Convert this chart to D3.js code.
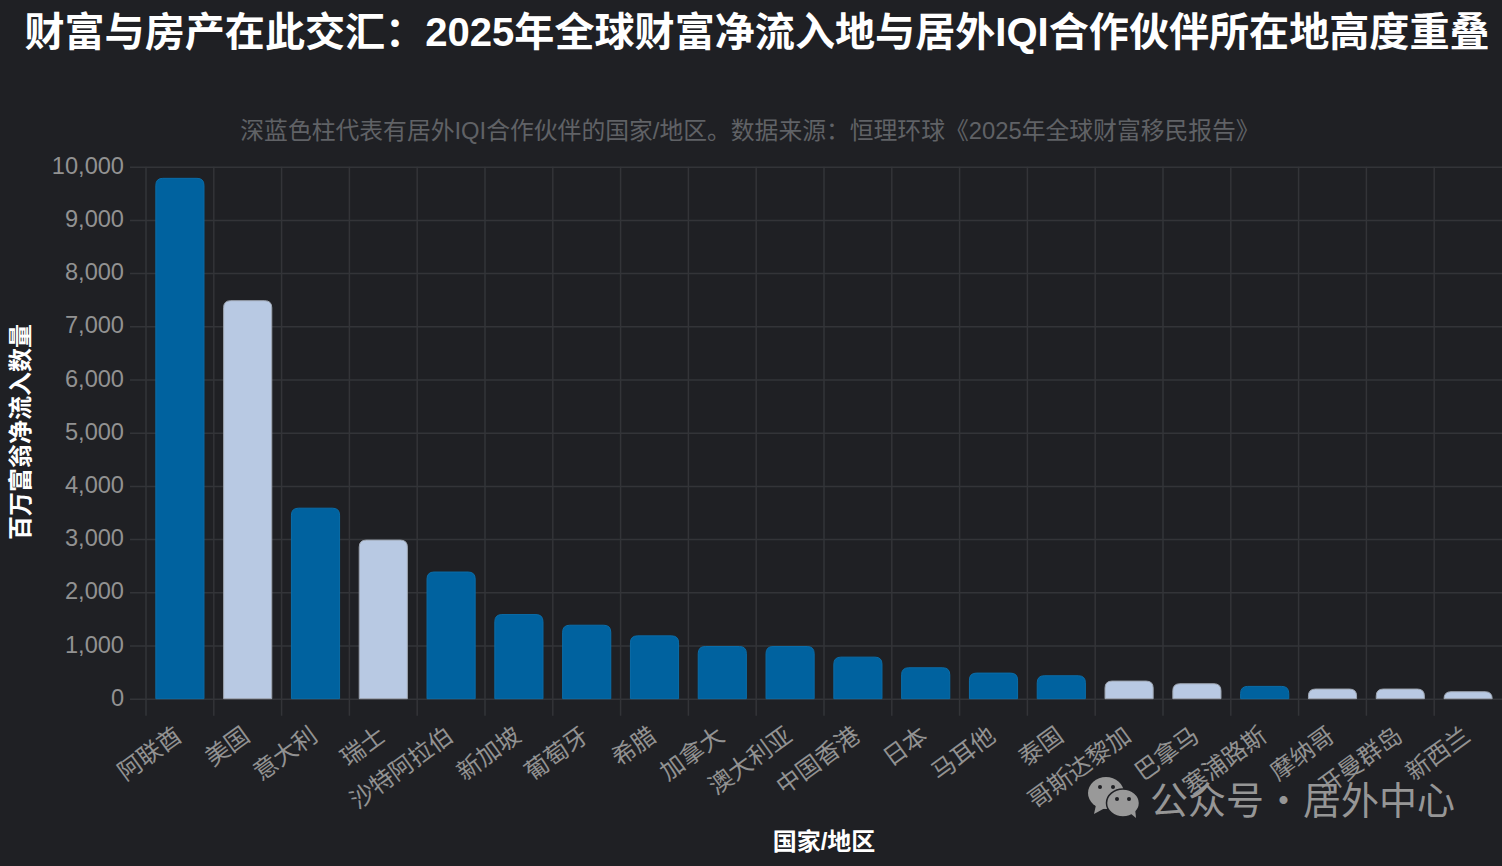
<!DOCTYPE html>
<html>
<head>
	<meta charset="utf-8">
	<title>2025年全球财富净流入地</title>
	<style type="text/css">
		body{
			margin: 0;
			background-color: #1f2024;
		}
		svg{
			display: block;
			font-family: "Liberation Sans", "Noto Sans CJK SC", sans-serif;
		}
	</style>
	<script src="https://cdn.jsdelivr.net/npm/d3@7"></script>
</head>
<body>
	<div id="chart"></div>
	<script type="text/javascript">
		const countries = ['阿联酋','美国','意大利','瑞士','沙特阿拉伯','新加坡','葡萄牙','希腊','加拿大','澳大利亚','中国香港','日本','马耳他','泰国','哥斯达黎加','巴拿马','塞浦路斯','摩纳哥','开曼群岛','新西兰'];
		const inflows = [9800,7500,3600,3000,2400,1600,1400,1200,1000,1000,800,600,500,450,350,300,250,200,200,150];
		const hasPartner = [1,0,1,0,1,1,1,1,1,1,1,1,1,1,0,0,1,0,0,0];
		const yTicks = [0,1000,2000,3000,4000,5000,6000,7000,8000,9000,10000];

		const [w,h] = [1502,866];
		const [plotL,plotR,plotT,plotB] = [146,1502,166.7,698.7];
		const gridColor = '#333438';

		const svg = d3.select('#chart')
		.append('svg')
		.attr('width', w)
		.attr('height', h);

		const xScale = d3.scaleBand()
		.domain(countries)
		.range([plotL,plotR])
		.paddingInner(0.29)
		.paddingOuter(0.145);
		const yScale = d3.scaleLinear()
		.domain([0,10000])
		.range([plotB,plotT]);

		// vertical grid sits on the band edges, not the band centres
		const gap = xScale.step()*xScale.paddingInner()/2;
		svg.append('g')
		.selectAll('line')
		.data(countries)
		.enter()
		.append('line')
		.attr('x1', d=>xScale(d)-gap)
		.attr('x2', d=>xScale(d)-gap)
		.attr('y1', plotT)
		.attr('y2', plotB+17)
		.attr('stroke', gridColor)
		.attr('stroke-width', 1.5);

		const yAxis = d3.axisLeft(yScale)
		.tickValues(yTicks)
		.tickSize(plotR-plotL+16)
		.tickPadding(6)
		.tickFormat(d3.format(','));
		const yG = svg.append('g')
		.attr('transform', `translate(${plotR},0)`)
		.call(yAxis);
		yG.select('.domain').remove();
		yG.selectAll('line').attr('stroke', gridColor).attr('stroke-width', 1.5);
		yG.selectAll('text')
		.attr('fill', '#929292')
		.attr('font-size', 23.6)
		.attr('dy', '0.28em')
		.attr('font-family', '"Liberation Sans", sans-serif');

		// the border is drawn inside the bar, so the path starts half a pixel in
		const barPath = (d,i)=>{
			const x0 = xScale(d), x1 = x0+xScale.bandwidth();
			const y0 = yScale(inflows[i])+1;
			const r = Math.min(7, plotB-y0);
			return `M${x0},${plotB}V${y0+r}Q${x0},${y0} ${x0+r},${y0}H${x1-r}Q${x1},${y0} ${x1},${y0+r}V${plotB}Z`;
		};
		svg.append('g')
		.selectAll('path')
		.data(countries)
		.enter()
		.append('path')
		.attr('d', barPath)
		.attr('fill', (d,i)=>hasPartner[i] ? '#00629f' : '#b8c9e3')
		.attr('stroke', (d,i)=>hasPartner[i] ? '#0a6da9' : '#9ea6b2')
		.attr('stroke-width', 1);

		const xAxis = d3.axisBottom(xScale).tickSize(0);
		const xG = svg.append('g')
		.attr('transform', `translate(0,${plotB})`)
		.call(xAxis);
		xG.select('.domain').remove();
		xG.selectAll('text')
		.attr('fill', '#929292')
		.attr('font-size', 24)
		.attr('font-family', '"Noto Sans CJK SC", sans-serif')
		.attr('text-anchor', 'end')
		.attr('dy', 0)
		.attr('transform', 'translate(2,38) rotate(-36)');

		svg.append('text')
		.attr('x', 757)
		.attr('y', 46)
		.attr('text-anchor', 'middle')
		.attr('fill', '#ffffff')
		.attr('font-size', 40.1)
		.attr('font-weight', 'bold')
		.text('财富与房产在此交汇：2025年全球财富净流入地与居外IQI合作伙伴所在地高度重叠');

		svg.append('text')
		.attr('x', 750)
		.attr('y', 139)
		.attr('text-anchor', 'middle')
		.attr('fill', '#606266')
		.attr('font-size', 23.8)
		.text('深蓝色柱代表有居外IQI合作伙伴的国家/地区。数据来源：恒理环球《2025年全球财富移民报告》');

		svg.append('text')
		.attr('transform', 'translate(29,432) rotate(-90)')
		.attr('text-anchor', 'middle')
		.attr('fill', '#ffffff')
		.attr('font-size', 24)
		.attr('font-weight', 'bold')
		.text('百万富翁净流入数量');

		svg.append('text')
		.attr('x', 824)
		.attr('y', 850)
		.attr('text-anchor', 'middle')
		.attr('fill', '#ffffff')
		.attr('font-size', 24)
		.attr('font-weight', 'bold')
		.text('国家/地区');

		// watermark
		const wm = svg.append('g');
		wm.append('ellipse').attr('cx',1106).attr('cy',793).attr('rx',18).attr('ry',16).attr('fill','#999999');
		wm.append('path').attr('d','M1096,805L1094,814L1105,808Z').attr('fill','#999999');
		wm.append('ellipse').attr('cx',1123).attr('cy',803).attr('rx',16.5).attr('ry',14).attr('fill','#999999').attr('stroke','#1f2024').attr('stroke-width',1.5);
		wm.append('path').attr('d','M1130,813L1136,818L1135,808Z').attr('fill','#999999');
		[[1100,787],[1113,787],[1117,799],[1129,799]].forEach(p=>{
			wm.append('circle').attr('cx',p[0]).attr('cy',p[1]).attr('r',2).attr('fill','#1f2024');
		});
		wm.append('text')
		.attr('x', 1150)
		.attr('y', 814)
		.attr('fill', '#969696')
		.attr('font-size', 38)
		.attr('font-family', '"Noto Sans CJK SC", sans-serif')
		.attr('word-spacing', -8)
		.text('公众号 · 居外中心');
	</script>
</body>
</html>
